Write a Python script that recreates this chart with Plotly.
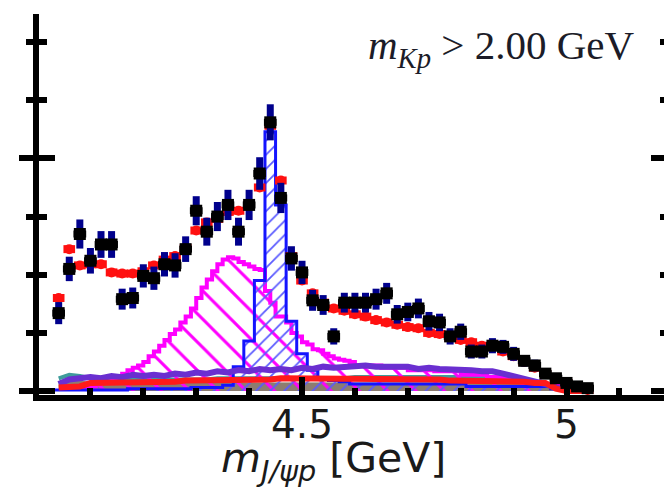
import plotly.graph_objects as go

# ---------------- data ----------------
# bin centres of m(J/psi p) [GeV]
mass = [4.04, 4.06, 4.08, 4.10, 4.12, 4.14, 4.16, 4.18, 4.20, 4.22,
        4.24, 4.26, 4.28, 4.30, 4.32, 4.34, 4.36, 4.38, 4.40, 4.42,
        4.44, 4.46, 4.48, 4.50, 4.52, 4.54, 4.56, 4.58, 4.60, 4.62,
        4.64, 4.66, 4.68, 4.70, 4.72, 4.74, 4.76, 4.78, 4.80, 4.82,
        4.84, 4.86, 4.88, 4.90, 4.92, 4.94, 4.96, 4.98, 5.00, 5.02, 5.04]

# measured candidates and statistical errors
data_y = [67, 105, 135, 112, 126, 126, 79, 80, 99, 97,
          109, 108, 122, 155, 137, 150, 160, 137, 160, 187,
          231, 166, 114, 102, 78, 74, 47, 76, 76, 76,
          79, 84, 66, 68, 71, 60, 59, 47, 51, 34,
          34, 39, 38, 32, 26, 22, 15, 11, 7, 4, 2.5]
data_err = [9.5, 10.5, 12.5, 11, 11.5, 11.5, 9, 9, 10, 10,
            10.5, 10.5, 11, 12.5, 12, 12.5, 13, 12, 13, 14,
            15.5, 13, 10.5, 10, 9, 8.5, 7, 8.5, 8.5, 8.5,
            9, 9, 8, 8, 8.5, 8, 7.5, 7, 7, 6,
            6, 6.5, 6, 6, 5, 5, 4, 3.5, 3, 2, 1.5]

# total fit
fit_y = [80, 122, 108, 109, 109, 102, 101, 101, 103, 108,
         113, 116, 123, 138, 145, 148, 154, 155, 160, 175,
         228, 181, 116, 95, 84, 76, 71, 69, 66, 64,
         61, 59, 57, 55, 54, 50, 49, 46, 44, 42,
         39, 38, 34, 30, 25, 20, 15, 10, 7, 3, 1]

# Pc(4450) component (same binning as the data)
pc4450_y = [1, 1, 1, 1, 1, 1, 1, 2, 2, 2,
            2, 2, 2, 3, 3, 3, 5, 21, 43, 95,
            223, 160, 60, 32, 18, 11, 9, 8, 6, 6,
            6, 6, 6, 6, 6, 6, 6, 6, 6, 4,
            4, 4, 4, 4, 4, 4, 4, 2, 2, 2, 0]

# Pc(4380) component (finer binning): left bin edges and contents
pc4380_edges = [4.08, 4.10, 4.11, 4.12, 4.13, 4.14, 4.15, 4.16, 4.17, 4.18,
                4.19, 4.20, 4.21, 4.22, 4.23, 4.24, 4.25, 4.26, 4.27, 4.28,
                4.29, 4.30, 4.31, 4.32, 4.33, 4.34, 4.35, 4.36, 4.37, 4.38,
                4.39, 4.40, 4.41, 4.42, 4.43, 4.44, 4.45, 4.46, 4.47, 4.48,
                4.49, 4.50, 4.51, 4.52, 4.53, 4.54, 4.55, 4.56, 4.57, 4.58,
                4.59, 4.60, 4.65, 4.70, 4.75, 4.80, 4.85, 4.90, 4.95, 5.00, 5.02]
pc4380_y = [2, 4, 6, 7, 8, 11, 13, 15, 18, 20,
            22, 25, 30, 34, 39, 44, 49, 53, 59, 64,
            71, 80, 89, 96, 103, 109, 113, 115, 114, 111,
            109, 107, 105, 104, 86, 76, 64, 64, 59, 50,
            47, 42, 40, 36, 35, 32, 30, 28, 27, 26,
            25, 22, 20, 18, 17, 14, 12, 8, 5, 2]

# other (background) components, same binning as the data
bkg_grey = [8, 10, 9, 7, 7, 7, 7, 7, 7, 7,
            7, 7, 7, 7, 7, 7, 7, 7, 7, 7,
            7, 7, 7, 7, 7, 7, 7, 7, 7, 7,
            7, 7, 7, 7, 7, 7, 7, 7, 7, 7,
            7, 7, 7, 7, 6, 5, 3, 2, 1, 0, 0]
bkg_teal = [11, 14, 13, 11, 10, 10, 10, 10, 10, 10,
            10, 10, 10, 10, 10, 11, 11, 11, 11, 11,
            11, 11, 11, 11, 11, 11, 11, 11, 12, 12,
            12, 12, 12, 12, 12, 12, 12, 12, 12, 12,
            12, 12, 12, 11, 10, 8, 5, 2, 0, 0, 0]
bkg_purple = [6, 10, 11, 12, 11, 13, 12, 14, 13, 14,
              13, 15, 14, 16, 15, 17, 16, 18, 17, 19,
              18, 19, 18, 20, 19, 21, 20, 21, 21, 22,
              21, 21, 20, 21, 19, 20, 19, 19, 18, 18,
              17, 17, 15, 13, 11, 8, 6, 3, 1, 0, 0]
bkg_red = [3, 3, 4, 7, 7, 7, 7, 8, 8, 8,
           8, 8, 9, 9, 9, 9, 10, 10, 10, 10,
           10, 11, 11, 11, 11, 11, 11, 11, 11, 11,
           11, 10, 10, 10, 10, 10, 10, 9, 9, 9,
           8, 8, 8, 8, 8, 7, 7, 2, 0, 0, 0]

x_ticks_major = 0.5
x_ticks_minor = 0.1
y_ticks_major = 200
y_ticks_minor = 50

# ---------------- figure ----------------
half = 0.01
edges = [round(m - half, 3) for m in mass] + [round(mass[-1] + half, 3)]

xr = [4.0028, 5.1843]
yr = [-3.37, 324.1]

fig = go.Figure()

fig.add_trace(go.Scatter(x=mass, y=bkg_grey, mode='lines',
                         line=dict(color='#8c7d70', width=1),
                         fill='tozeroy', fillcolor='#8c7d70', hoverinfo='skip'))
fig.add_trace(go.Scatter(x=mass, y=bkg_teal, mode='lines',
                         line=dict(color='#3f9c9c', width=4), hoverinfo='skip'))

fig.add_trace(go.Scatter(x=pc4380_edges, y=pc4380_y + [pc4380_y[-1]], mode='lines',
                         line=dict(color='#ff00ff', width=4, shape='hv'),
                         fill='tozeroy', fillcolor='rgba(0,0,0,0)',
                         fillpattern=dict(shape='\\', fgcolor='#ff00ff',
                                          bgcolor='rgba(0,0,0,0)', size=20,
                                          solidity=0.15, fillmode='replace'),
                         hoverinfo='skip'))
fig.add_trace(go.Scatter(x=edges, y=pc4450_y + [pc4450_y[-1]], mode='lines',
                         line=dict(color='#1414ff', width=3, shape='hv'),
                         fill='tozeroy', fillcolor='rgba(0,0,0,0)',
                         fillpattern=dict(shape='/', fgcolor='#5a5aff',
                                          bgcolor='rgba(0,0,0,0)', size=10,
                                          solidity=0.18, fillmode='replace'),
                         hoverinfo='skip'))

fig.add_trace(go.Scatter(x=mass, y=bkg_purple, mode='lines',
                         line=dict(color='#6a2fd0', width=6), hoverinfo='skip'))
fig.add_trace(go.Scatter(x=mass, y=bkg_red, mode='lines',
                         line=dict(color='#ff1a1a', width=6), hoverinfo='skip'))

fig.add_trace(go.Scatter(x=mass, y=fit_y, mode='markers',
                         marker=dict(symbol='circle', size=10, color='#ff1010'),
                         error_x=dict(type='constant', value=0.011, thickness=8,
                                      width=0, color='#ff1010'),
                         hoverinfo='skip'))
fig.add_trace(go.Scatter(x=mass, y=data_y, mode='markers',
                         marker=dict(symbol='square', size=12, color='black'),
                         error_y=dict(type='data', array=data_err, thickness=7,
                                      width=0, color='#00008c'),
                         error_x=dict(type='constant', value=0.012, thickness=7,
                                      width=0, color='black'),
                         hoverinfo='skip'))

# invisible carriers for the extra tick axes
fig.add_trace(go.Scatter(x=mass, y=data_y, yaxis='y2', mode='markers',
                         marker=dict(opacity=0), hoverinfo='skip'))
fig.add_trace(go.Scatter(x=mass, y=data_y, yaxis='y3', mode='markers',
                         marker=dict(opacity=0), hoverinfo='skip'))

fig.add_annotation(xref='paper', yref='paper', x=0.9568, y=0.985,
                   xanchor='right', yanchor='top', showarrow=False,
                   text='<i>m</i><sub><i>Kp</i></sub> > 2.00 GeV',
                   font=dict(family='Liberation Serif', size=41, color='#1c1c28'))
fig.add_annotation(xref='paper', yref='paper', x=0.4704, y=-0.172,
                   xanchor='center', yanchor='middle', showarrow=False,
                   text='<i>m</i><sub><i>J/ψp</i></sub> [GeV]',
                   font=dict(family='DejaVu Sans', size=41, color='#1a1a1a'))

common_y = dict(range=yr, showgrid=False, zeroline=False, showticklabels=False,
                dtick=y_ticks_major, tick0=0, tickcolor='black', tickwidth=6)

fig.update_layout(
    width=664, height=490,
    margin=dict(l=39, r=0, t=14, b=95),
    paper_bgcolor='white', plot_bgcolor='white', showlegend=False,
    xaxis=dict(range=xr, showgrid=False, zeroline=False, showline=True,
               linewidth=6, linecolor='black',
               ticks='inside', ticklen=18, tickwidth=6, tickcolor='black',
               dtick=x_ticks_major, tick0=4.0, ticklabelstandoff=-10,
               minor=dict(ticks='inside', ticklen=7, tickwidth=6, tickcolor='black',
                          dtick=x_ticks_minor, tick0=4.0, showgrid=False),
               tickfont=dict(family='DejaVu Sans', size=39, color='#1a1a1a')),
    yaxis=dict(**common_y, showline=True, linewidth=6, linecolor='black',
               ticks='outside', ticklen=14,
               minor=dict(ticks='outside', ticklen=7, tickwidth=6, tickcolor='black',
                          dtick=y_ticks_minor, tick0=0, showgrid=False)),
    yaxis2=dict(**common_y, overlaying='y', side='left', showline=False,
                ticks='inside', ticklen=16,
                minor=dict(ticks='inside', ticklen=8, tickwidth=6, tickcolor='black',
                           dtick=y_ticks_minor, tick0=0, showgrid=False)),
    yaxis3=dict(**common_y, overlaying='y', side='right', showline=False,
                ticks='inside', ticklen=13,
                minor=dict(ticks='inside', ticklen=4, tickwidth=6, tickcolor='black',
                           dtick=y_ticks_minor, tick0=0, showgrid=False)),
)

fig.write_html('out.html')
